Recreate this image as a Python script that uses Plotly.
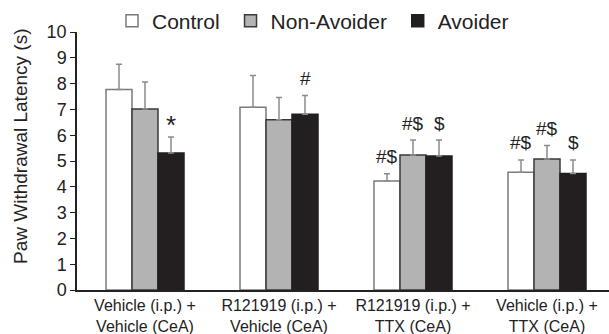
import plotly.graph_objects as go

categories = ["Vehicle (i.p.) +<br>Vehicle (CeA)", "R121919 (i.p.) +<br>Vehicle (CeA)",
              "R121919 (i.p.) +<br>TTX (CeA)", "Vehicle (i.p.) +<br>TTX (CeA)"]
series_names = ["Control", "Non-Avoider", "Avoider"]
control = [7.77, 7.08, 4.22, 4.56]
control_err = [0.98, 1.23, 0.29, 0.48]
nonavoider = [7.02, 6.60, 5.23, 5.08]
nonavoider_err = [1.04, 0.86, 0.58, 0.52]
avoider = [5.31, 6.81, 5.19, 4.52]
avoider_err = [0.62, 0.73, 0.62, 0.52]
sig_labels = [["", "", "*"], ["", "", "#"], ["#$", "#$", "$"], ["#$", "#$", "$"]]
y_ticks = list(range(0, 11))

values = [control, nonavoider, avoider]
errors = [control_err, nonavoider_err, avoider_err]
fills = ["#ffffff", "#b3b3b3", "#231f20"]
outlines = ["#7a7a7a", "#3a3a3a", "#231f20"]
legend_pad = ["\u00a0", "\u00a0", ""]

W, H = 609, 334
ml, mr, mt, mb = 77, 0, 32, 44
pw = W - ml - mr
ph = H - mt - mb
spacing = 134.0
x0 = -(145 - ml) / spacing
x1 = x0 + pw / spacing
bar_w = 26.0 / spacing
gap = 1 - 3 * bar_w

xs = list(range(len(categories)))
fig = go.Figure()
for i, name in enumerate(series_names):
    fig.add_trace(go.Bar(
        x=xs, y=values[i], name=name + legend_pad[i],
        marker=dict(color=fills[i], line=dict(color=outlines[i], width=1.5)),
        error_y=dict(type="data", array=errors[i], arrayminus=[0] * len(xs),
                     symmetric=False, color="#8c8c8c", thickness=1.5, width=3),
    ))

font = "Liberation Sans, Arial, sans-serif"
anns = []
for g in range(len(categories)):
    for i in range(3):
        t = sig_labels[g][i]
        if not t:
            continue
        star = t == "*"
        anns.append(dict(x=g + (i - 1) * bar_w, y=values[i][g] + errors[i][g],
                         xref="x", yref="y", text=t, showarrow=False,
                         yanchor="middle", yshift=12 if star else 17,
                         font=dict(family=font, size=26 if star else 19, color="#222")))
anns.append(dict(x=(20 - ml) / pw, y=(290 - 147) / ph, xref="paper", yref="paper",
                 text="Paw Withdrawal Latency (s)", textangle=-90, showarrow=False,
                 xanchor="center", yanchor="middle",
                 font=dict(family=font, size=19, color="#222")))

fig.update_layout(
    width=W, height=H, margin=dict(l=ml, r=mr, t=mt, b=mb, autoexpand=False),
    paper_bgcolor="white", plot_bgcolor="white",
    barmode="group", bargap=gap, bargroupgap=0,
    showlegend=True,
    legend=dict(orientation="h", x=(112 - ml) / pw, xanchor="left",
                y=1 + (mt - 21) / ph, yanchor="middle",
                font=dict(family=font, size=21, color="#222"),
                itemclick=False, traceorder="normal", bgcolor="rgba(0,0,0,0)"),
    font=dict(family=font, color="#222"),
    annotations=anns,
    xaxis=dict(range=[x0, x1], tickmode="array", tickvals=xs, ticktext=categories,
               showline=True, linecolor="#222", linewidth=1.5, ticks="",
               showgrid=False, zeroline=False,
               tickfont=dict(family=font, size=16, color="#222")),
    yaxis=dict(range=[0, 10], tickmode="array", tickvals=y_ticks,
               showline=True, linecolor="#222", linewidth=1.5, ticks="outside",
               ticklen=5, tickcolor="#222", tickwidth=1.2, showgrid=False, zeroline=False,
               tickfont=dict(family=font, size=18, color="#222")),
)
fig.write_html("out.html", config={"displayModeBar": False},
               post_script="document.body.style.margin='0';")
